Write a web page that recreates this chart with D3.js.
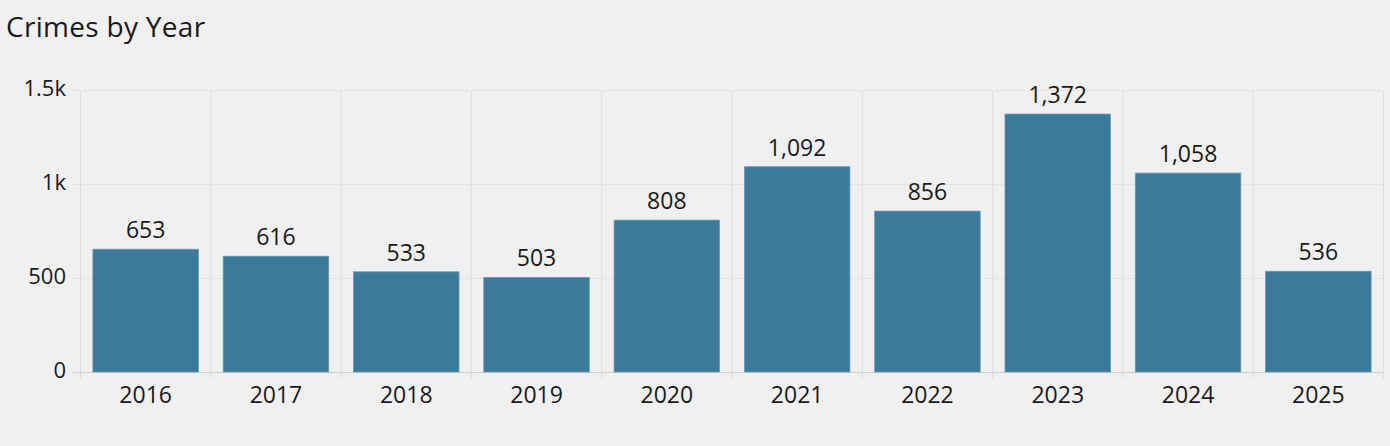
<!DOCTYPE html>
<html><head><meta charset="utf-8">
<script src="https://cdn.jsdelivr.net/npm/d3@7"></script>
<style>
html,body{margin:0;padding:0;background:#f0f0f0;}
svg{display:block;font-family:"Open Sans","Noto Sans",sans-serif;}
</style></head><body>
<svg id="c" width="1390" height="446"></svg>
<script>
const years = ["2016","2017","2018","2019","2020","2021","2022","2023","2024","2025"];
const crimes = [653,616,533,503,808,1092,856,1372,1058,536];
const yTicks = [0,500,1000,1500];
const yTickLabels = ["0","500","1k","1.5k"];

const svg = d3.select("#c");
const W=1390,H=446;
const m={left:80.5,right:6.5,top:90,bottom:74};
const x=d3.scaleBand().domain(years).range([m.left,W-m.right]).paddingInner(0.19).paddingOuter(0.095);
const y=d3.scaleLinear().domain([0,1500]).range([H-m.bottom,m.top]);

svg.append("text").attr("x",6).attr("y",37).attr("font-size",28).attr("letter-spacing",0.3).attr("fill","#1a1a1a").text("Crimes by Year");

const step=x.step();
const bounds=years.map((d,i)=>m.left+i*step).concat([W-m.right]);
const g=svg.append("g");
g.selectAll("line.v").data(bounds).join("line")
 .attr("x1",d=>d).attr("x2",d=>d).attr("y1",y(1500)).attr("y2",y(0)+7)
 .attr("stroke","#dedede").attr("stroke-width",1);
g.selectAll("line.h").data(yTicks).join("line")
 .attr("x1",m.left-8).attr("x2",W-m.right).attr("y1",d=>Math.round(y(d))+0.5).attr("y2",d=>Math.round(y(d))+0.5)
 .attr("stroke",d=>d===0?"#cfcfcf":"#e3e3e3").attr("stroke-width",1);

svg.selectAll("text.yl").data(yTicks).join("text")
 .attr("x",66).attr("y",d=>y(d)+6).attr("text-anchor","end")
 .attr("font-size",22).attr("fill","#1a1a1a").text((d,i)=>yTickLabels[i]);

svg.selectAll("rect.bar").data(crimes).join("rect")
 .attr("x",(d,i)=>x(years[i])).attr("width",x.bandwidth())
 .attr("y",d=>y(d)).attr("height",d=>y(0)-y(d))
 .attr("fill","#3c7a9b").attr("stroke","#6e9ab5").attr("stroke-width",0.8);

svg.selectAll("text.vl").data(crimes).join("text")
 .attr("x",(d,i)=>x(years[i])+x.bandwidth()/2).attr("y",d=>y(d)-11)
 .attr("text-anchor","middle").attr("font-size",23).attr("fill","#1a1a1a")
 .text(d=>d3.format(",")(d));

svg.selectAll("text.xl").data(years).join("text")
 .attr("x",d=>x(d)+x.bandwidth()/2).attr("y",y(0)+31)
 .attr("text-anchor","middle").attr("font-size",23).attr("fill","#1a1a1a").text(d=>d);
</script></body></html>
